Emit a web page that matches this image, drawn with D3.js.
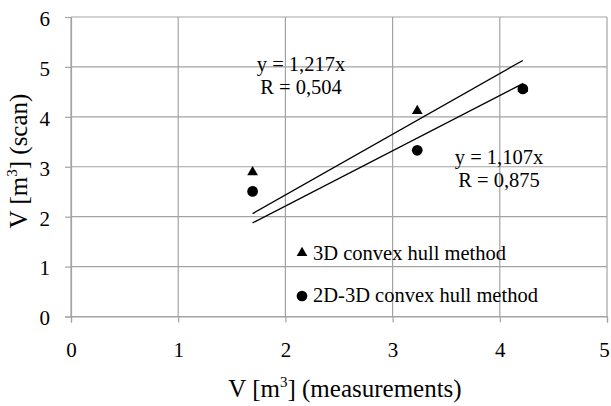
<!DOCTYPE html>
<html>
<head>
<meta charset="utf-8">
<script src="https://cdn.jsdelivr.net/npm/d3@7"></script>
<style>
  html, body { margin: 0; padding: 0; background: #fff; }
</style>
</head>
<body>
<svg id="chart" width="611" height="406" font-family="Liberation Serif, DejaVu Serif, serif"></svg>
<script>
// measured volume vs. scanned volume
const measured = [1.694, 3.23, 4.215];
const hull3D = [2.89, 4.12, 4.56];
const hull2D3D = [2.506, 3.33, 4.56];

// regression lines through the origin
const slope3D = 1.217;
const slope2D3D = 1.107;
const label3D = ["y = 1,217x", "R = 0,504"];
const label2D3D = ["y = 1,107x", "R = 0,875"];

const xTicks = [0, 1, 2, 3, 4, 5];
const yTicks = [0, 1, 2, 3, 4, 5, 6];
const seriesNames = ["3D convex hull method", "2D-3D convex hull method"];

const serif = "Liberation Serif";
const svg = d3.select("#chart");
const x = d3.scaleLinear().domain([0, 5]).range([71, 607]);
const y = d3.scaleLinear().domain([0, 6]).range([316.5, 17]);
const grid = "#a3a3a3";

// gridlines
svg.append("g").selectAll("line").data(xTicks).join("line")
  .attr("x1", d => x(d)).attr("x2", d => x(d))
  .attr("y1", y(6)).attr("y2", y(0))
  .attr("stroke", grid).attr("stroke-width", 1.2);
svg.append("g").selectAll("line").data(yTicks).join("line")
  .attr("x1", x(0)).attr("x2", x(5))
  .attr("y1", d => y(d)).attr("y2", d => y(d))
  .attr("stroke", grid).attr("stroke-width", 1.2);

// axes
const xAxis = svg.append("g").attr("transform", `translate(0,${y(0)})`)
  .call(d3.axisBottom(x).tickValues(xTicks).tickSize(6).tickPadding(20).tickFormat(d3.format("d")));
const yAxis = svg.append("g").attr("transform", `translate(${x(0)},0)`)
  .call(d3.axisLeft(y).tickValues(yTicks).tickSize(6).tickPadding(15).tickFormat(d3.format("d")));
[xAxis, yAxis].forEach(a => {
  a.attr("font-family", serif).attr("font-size", 21);
  a.select(".domain").attr("stroke", grid).attr("stroke-width", 1.2);
  a.selectAll(".tick line").attr("stroke", grid).attr("stroke-width", 1.2);
  a.selectAll(".tick text").attr("fill", "#000");
});
yAxis.selectAll(".tick text").attr("dy", "0.4em");
// keep the last x label inside the right edge
xAxis.selectAll(".tick text").filter(d => d === 5).attr("x", -3);

// trend lines
const xs = d3.extent(measured);
const line = d3.line().x(d => x(d[0])).y(d => y(d[1]));
[slope3D, slope2D3D].forEach(s => {
  svg.append("path")
    .datum(xs.map(v => [v, v * s]))
    .attr("d", line).attr("fill", "none")
    .attr("stroke", "#000").attr("stroke-width", 1.3);
});

// markers
const tri = d3.symbol().type(d3.symbolTriangle).size(50);
const circ = d3.symbol().type(d3.symbolCircle).size(90);
svg.append("g").selectAll("path").data(measured).join("path")
  .attr("d", tri)
  .attr("transform", (d, i) => `translate(${x(d)},${y(hull3D[i])})`)
  .attr("fill", "#000");
svg.append("g").selectAll("path").data(measured).join("path")
  .attr("d", circ)
  .attr("transform", (d, i) => `translate(${x(d)},${y(hull2D3D[i])})`)
  .attr("fill", "#000");

// equation labels
function eqLabel(lines, cx, cy) {
  const t = svg.append("text").attr("font-family", serif).attr("text-anchor", "middle").attr("font-size", 20.5);
  lines.forEach((s, i) => t.append("tspan").attr("x", cx).attr("y", cy + i * 23).text(s));
}
eqLabel(label3D, 301, 71);
eqLabel(label2D3D, 499, 164);

// legend
const legend = svg.append("g").attr("font-family", serif).attr("font-size", 20.5);
legend.append("path").attr("d", tri).attr("transform", "translate(302,253)").attr("fill", "#000");
legend.append("path").attr("d", circ).attr("transform", "translate(302,296)").attr("fill", "#000");
legend.append("text").attr("x", 313).attr("y", 260).text(seriesNames[0]);
legend.append("text").attr("x", 313).attr("y", 302).text(seriesNames[1]);

// axis titles
const xt = svg.append("text").attr("font-family", serif).attr("text-anchor", "middle")
  .attr("x", 345).attr("y", 397).attr("font-size", 25);
xt.append("tspan").text("V [m");
xt.append("tspan").attr("font-size", 15).attr("dy", -10).text("3");
xt.append("tspan").attr("dy", 10).text("] (measurements)");

const yt = svg.append("text").attr("font-family", serif).attr("text-anchor", "middle")
  .attr("transform", "translate(27,161) rotate(-90)").attr("font-size", 25);
yt.append("tspan").text("V [m");
yt.append("tspan").attr("font-size", 15).attr("dy", -10).text("3");
yt.append("tspan").attr("dy", 10).text("] (scan)");
</script>
</body>
</html>
